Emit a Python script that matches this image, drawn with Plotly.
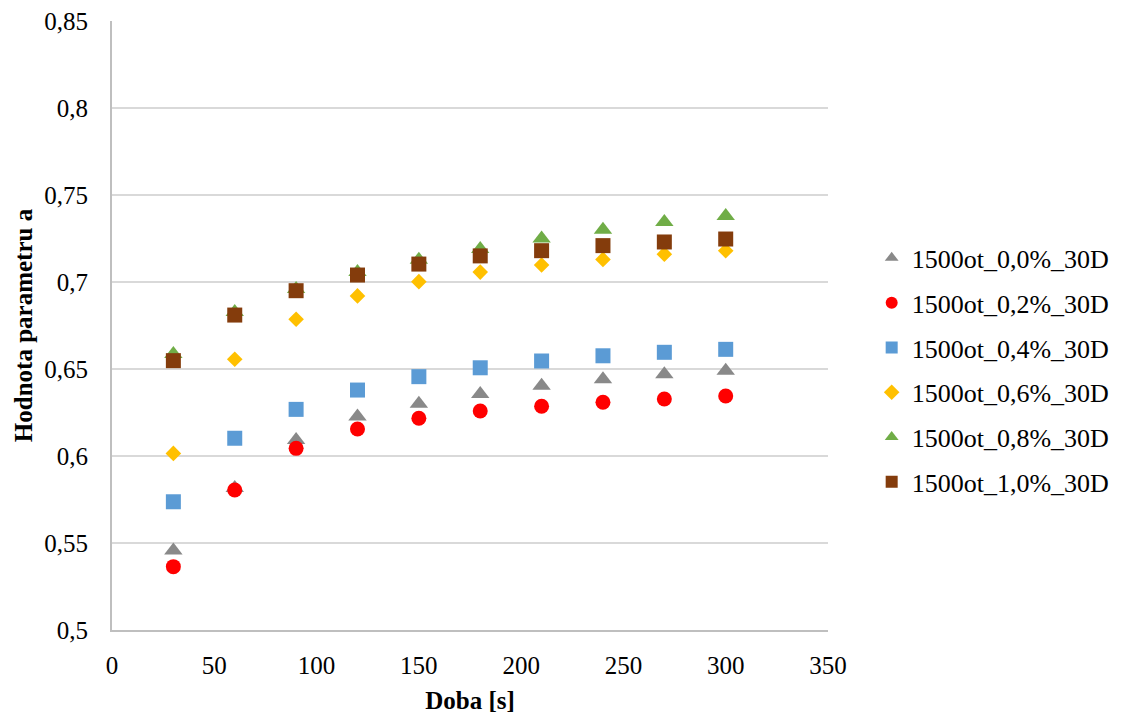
import plotly.graph_objects as go

# Time points [s]
doba = [30, 60, 90, 120, 150, 180, 210, 240, 270, 300]

# Parameter a for each mixture
a_00 = [0.5457, 0.5816, 0.6092, 0.6227, 0.6300, 0.6356, 0.6404, 0.6441, 0.6470, 0.6490]
a_02 = [0.5364, 0.5805, 0.6044, 0.6155, 0.6217, 0.6259, 0.6286, 0.6309, 0.6328, 0.6345]
a_04 = [0.5737, 0.6102, 0.6268, 0.6379, 0.6456, 0.6507, 0.6546, 0.6576, 0.6596, 0.6613]
a_06 = [0.6015, 0.6556, 0.6786, 0.6920, 0.7002, 0.7057, 0.7098, 0.7130, 0.7160, 0.7180]
a_08 = [0.6586, 0.6828, 0.6960, 0.7057, 0.7128, 0.7190, 0.7250, 0.7300, 0.7345, 0.7380]
a_10 = [0.6548, 0.6810, 0.6950, 0.7040, 0.7103, 0.7150, 0.7180, 0.7209, 0.7230, 0.7247]

names = ["1500ot_0,0%_30D", "1500ot_0,2%_30D", "1500ot_0,4%_30D",
         "1500ot_0,6%_30D", "1500ot_0,8%_30D", "1500ot_1,0%_30D"]

y_ticks = [0.5, 0.55, 0.6, 0.65, 0.7, 0.75, 0.8, 0.85]
y_tick_text = ["0,5", "0,55", "0,6", "0,65", "0,7", "0,75", "0,8", "0,85"]
x_ticks = [0, 50, 100, 150, 200, 250, 300, 350]

styles = [
    dict(symbol="triangle-up", color="#898989", size=16),
    dict(symbol="circle", color="#FF0000", size=15),
    dict(symbol="square", color="#5B9BD5", size=15),
    dict(symbol="diamond", color="#FFC000", size=12),
    dict(symbol="triangle-up", color="#70AD47", size=16),
    dict(symbol="square", color="#843C0C", size=15),
]

fig = go.Figure()
for i, (name, vals, st) in enumerate(zip(names, [a_00, a_02, a_04, a_06, a_08, a_10], styles)):
    fig.add_trace(go.Scatter(
        x=doba, y=vals, mode="markers", name=name, legendgroup=f"g{i}",
        marker=dict(symbol=st["symbol"], color=st["color"], size=st["size"],
                    line=dict(width=0)),
    ))

font_family = "Liberation Serif, Times New Roman, serif"
FS = 25

fig.update_layout(
    width=1127, height=717,
    margin=dict(l=112, r=295, t=21, b=87),
    paper_bgcolor="white", plot_bgcolor="white",
    font=dict(family=font_family, size=FS, color="#000000"),
    legend=dict(x=1.061, xanchor="left", xref="paper", y=0.427, yanchor="middle",
                font=dict(family=font_family, size=26, color="#000000"),
                tracegroupgap=8, itemsizing="constant", bgcolor="rgba(0,0,0,0)"),
    showlegend=True,
)

fig.update_xaxes(
    range=[0, 350], tickvals=x_ticks, ticktext=[str(v) for v in x_ticks],
    showgrid=False, zeroline=False, automargin=False,
    showline=True, linecolor="#BFBFBF", linewidth=2,
    ticks="", ticklabelstandoff=12,
    tickfont=dict(family=font_family, size=FS, color="#000000"),
    title=dict(text="<b>Doba [s]</b>", font=dict(family=font_family, size=FS, color="#000000"),
               standoff=13),
)
fig.update_yaxes(
    range=[0.5, 0.85], tickvals=y_ticks, ticktext=y_tick_text,
    showgrid=True, gridcolor="#D9D9D9", gridwidth=1.5, zeroline=False, automargin=False,
    showline=True, linecolor="#BFBFBF", linewidth=2,
    ticks="", ticklabelstandoff=17,
    tickfont=dict(family=font_family, size=FS, color="#000000"),
    title=dict(text="<b>Hodnota parametru a</b>", font=dict(family=font_family, size=FS, color="#000000"),
               standoff=5),
)

fig.write_html("out.html")
